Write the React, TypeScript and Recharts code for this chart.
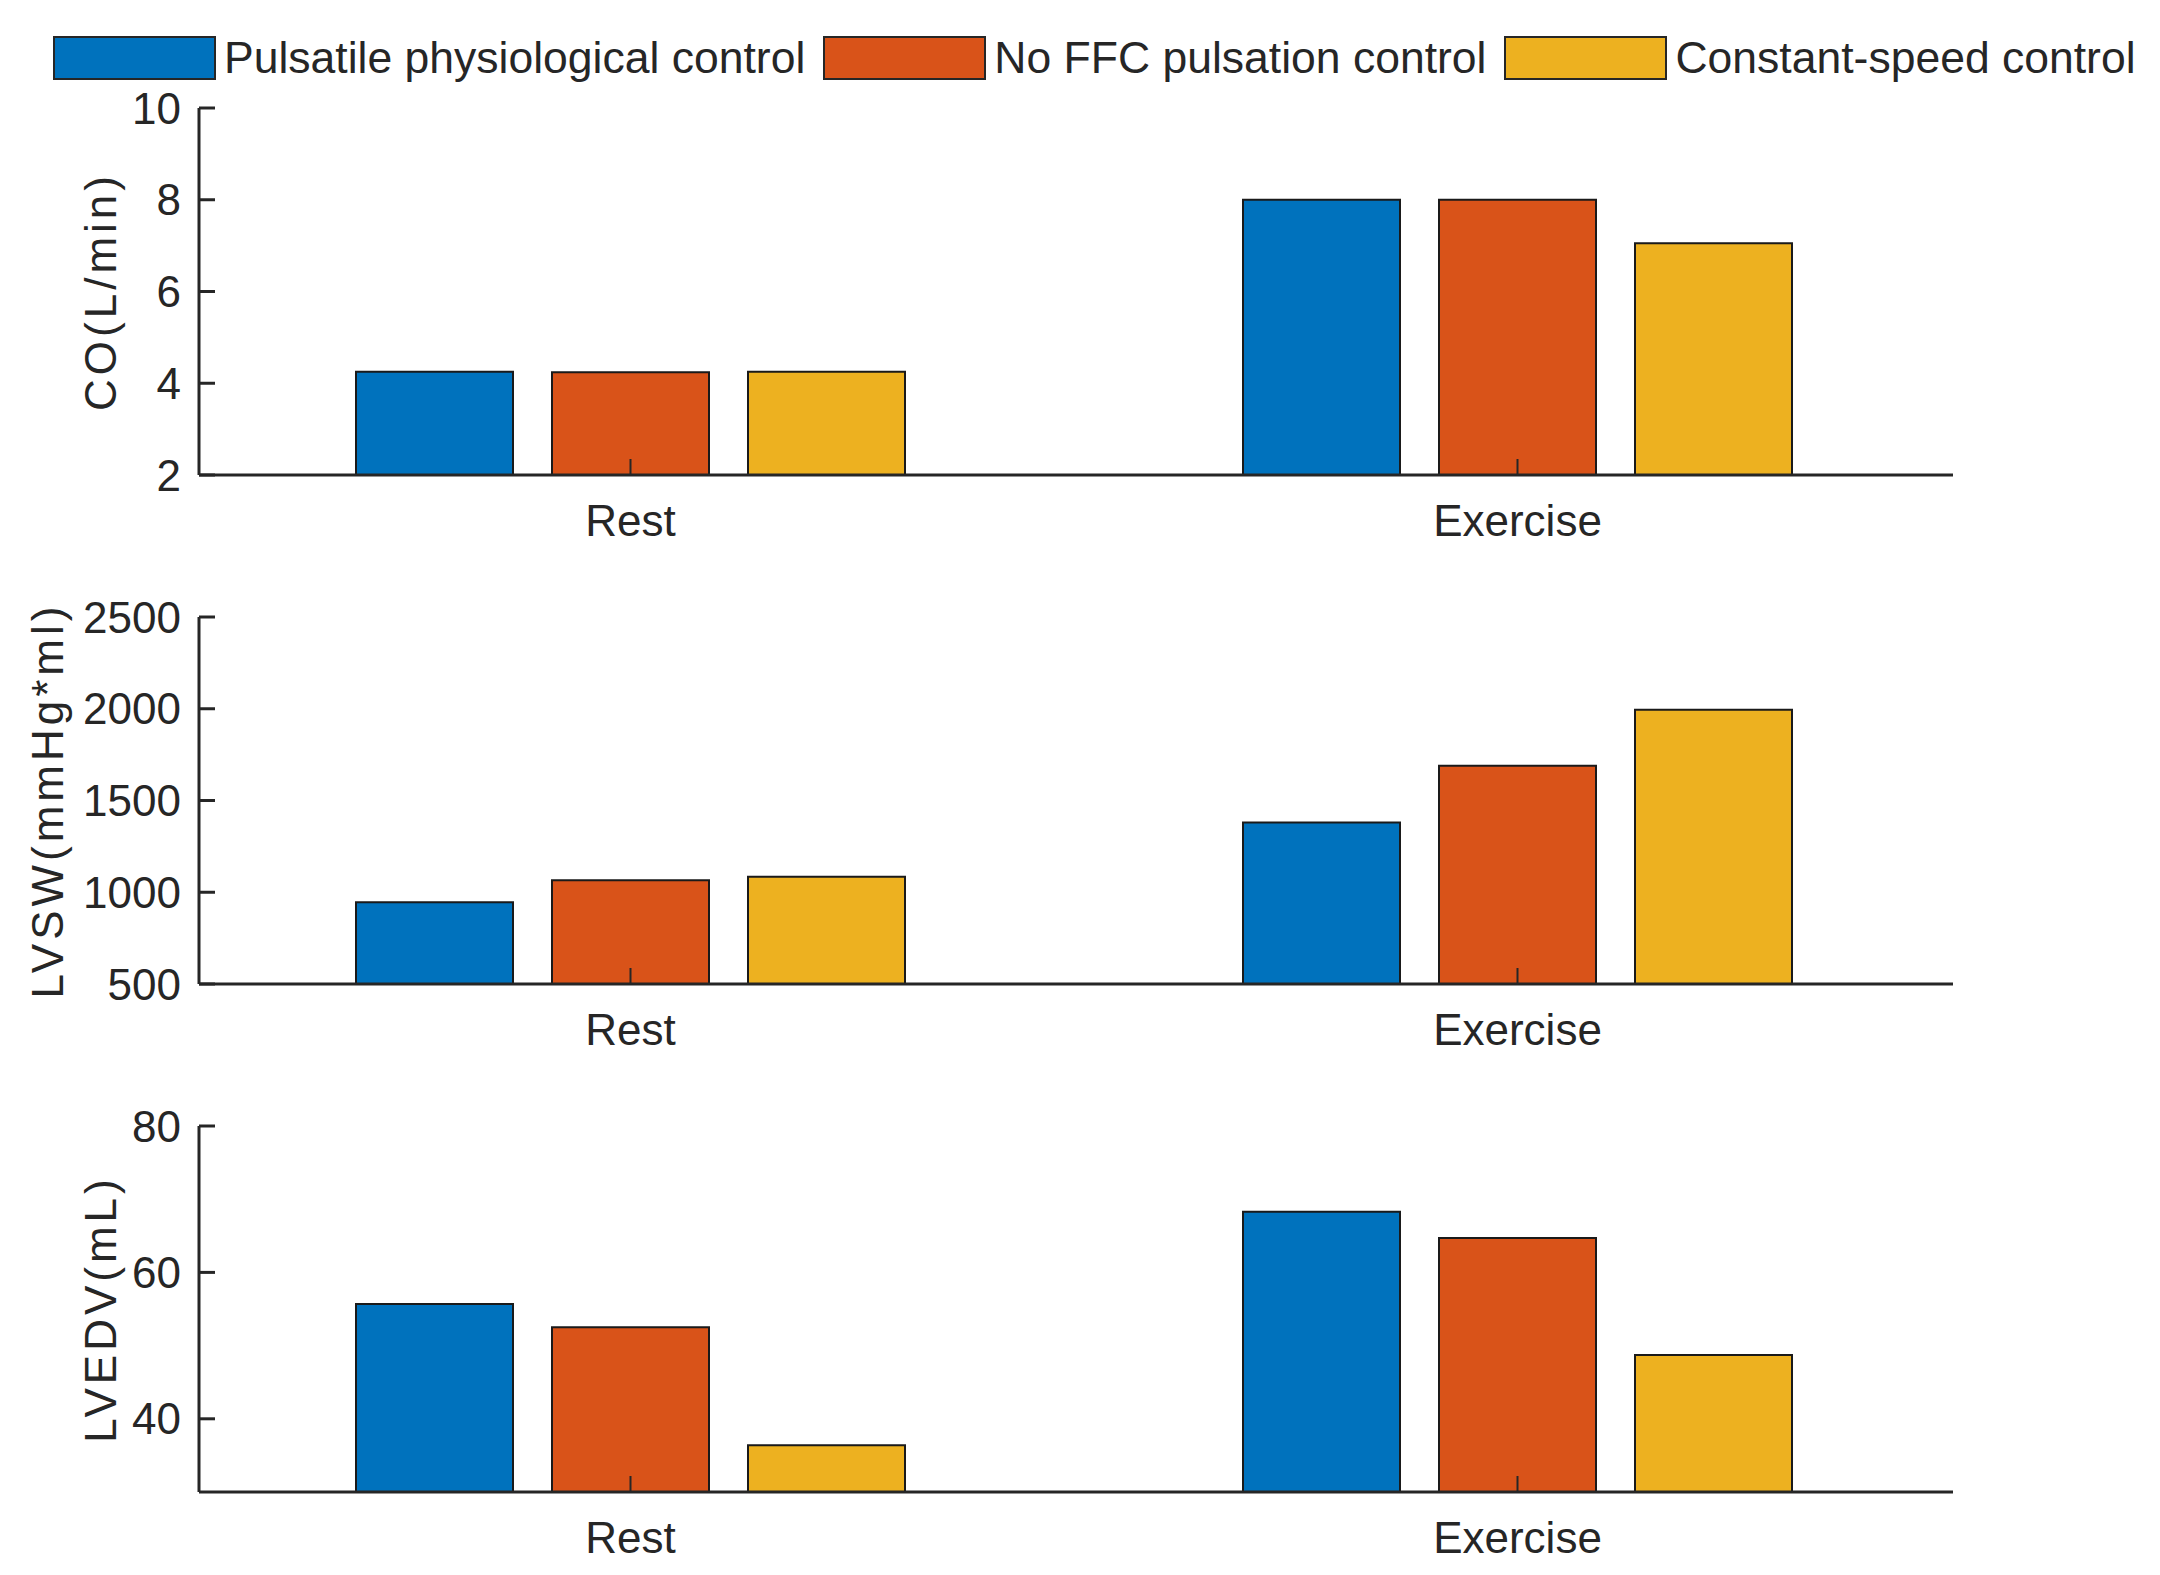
import React from 'react';
import { BarChart, Bar, XAxis, YAxis, Legend, Label } from 'recharts';

const categories = ['Rest', 'Exercise'];
const seriesNames = ['Pulsatile physiological control', 'No FFC pulsation control', 'Constant-speed control'];
const seriesColors = ['#0072BD', '#D95319', '#EDB120'];

const coPulsatile = [4.25, 8.0];
const coNoFfc = [4.24, 8.0];
const coConstant = [4.25, 7.05];
const coTicks = [2, 4, 6, 8, 10];

const lvswPulsatile = [945, 1380];
const lvswNoFfc = [1065, 1690];
const lvswConstant = [1085, 1995];
const lvswTicks = [500, 1000, 1500, 2000, 2500];

const lvedvPulsatile = [55.7, 68.3];
const lvedvNoFfc = [52.5, 64.7];
const lvedvConstant = [36.4, 48.7];
const lvedvTicks = [40, 60, 80];

const FONT = '"Liberation Sans", Arial, sans-serif';
const INK = '#262626';

function buildRows(a: number[], b: number[], c: number[]) {
  return categories.map((cat, i) => ({ cat, s0: a[i], s1: b[i], s2: c[i] }));
}

const renderLegend = () => (
  <div style={{ display: 'flex', alignItems: 'center', fontFamily: FONT, fontSize: 44.5, color: INK, lineHeight: 1, whiteSpace: 'nowrap' }}>
    {seriesNames.map((n, i) => (
      <div key={n} style={{ display: 'flex', alignItems: 'center', marginRight: i < 2 ? 18 : 0 }}>
        <div style={{ width: 163, height: 44, background: seriesColors[i], border: `2px solid ${INK}`, boxSizing: 'border-box' }} />
        <span style={{ marginLeft: 8 }}>{n}</span>
      </div>
    ))}
  </div>
);

type PanelProps = {
  divTop: number;
  padTop: number;
  plotHeight: number;
  rows: any[];
  domain: [number, number];
  ticks: number[];
  label: string;
  labelX: number;
  showLegend?: boolean;
};

function Panel({ divTop, padTop, plotHeight, rows, domain, ticks, label, labelX, showLegend }: PanelProps) {
  const xAxisH = 100;
  return (
    <div style={{ position: 'absolute', top: divTop, left: 0 }}>
      <BarChart
        width={2160}
        height={padTop + plotHeight + xAxisH}
        data={rows}
        margin={{ top: padTop, right: 207, bottom: 0, left: 99 }}
        barSize={157}
        barGap={39}
      >
        <XAxis
          dataKey="cat"
          height={xAxisH}
          padding={{ left: -12, right: -8 }}
          axisLine={{ stroke: INK, strokeWidth: 3 }}
          tickLine={{ stroke: INK, strokeWidth: 2 }}
          tickSize={-16}
          tickMargin={46}
          tick={{ fill: INK, fontSize: 44, fontFamily: FONT }}
          interval={0}
        />
        <YAxis
          width={100}
          domain={domain}
          ticks={ticks}
          allowDataOverflow
          axisLine={{ stroke: INK, strokeWidth: 3 }}
          tickLine={{ stroke: INK, strokeWidth: 3 }}
          tickSize={-16}
          tickMargin={34}
          tick={{ fill: INK, fontSize: 44, fontFamily: FONT }}
        >
          <Label
            content={(p: any) => {
              const vb = p.viewBox || {};
              const cy = (vb.y ?? 0) + (vb.height ?? 0) / 2;
              return (
                <text
                  x={labelX}
                  y={cy}
                  transform={`rotate(-90, ${labelX}, ${cy})`}
                  textAnchor="middle"
                  dominantBaseline="central"
                  fill={INK}
                  fontSize={44}
                  fontFamily={FONT}
                  letterSpacing={4}
                >
                  {label}
                </text>
              );
            }}
          />
        </YAxis>
        {showLegend && (
          <Legend
            verticalAlign="middle"
            align="center"
            content={renderLegend}
            wrapperStyle={{ position: 'absolute', top: 36, left: 53, width: 'auto', height: 'auto' }}
          />
        )}
        {['s0', 's1', 's2'].map((k, i) => (
          <Bar
            key={k}
            dataKey={k}
            name={seriesNames[i]}
            fill={seriesColors[i]}
            stroke="#1a1a1a"
            strokeWidth={2}
            isAnimationActive={false}
          />
        ))}
      </BarChart>
    </div>
  );
}

export default function App() {
  return (
    <div style={{ position: 'relative', width: 2160, height: 1575, background: '#fff' }}>
      <style>{'body{margin:0;background:#fff}'}</style>
      <Panel
        divTop={0}
        padTop={108}
        plotHeight={367}
        rows={buildRows(coPulsatile, coNoFfc, coConstant)}
        domain={[2, 10]}
        ticks={coTicks}
        label="CO(L/min)"
        labelX={100}
        showLegend
      />
      <Panel
        divTop={577}
        padTop={40}
        plotHeight={367}
        rows={buildRows(lvswPulsatile, lvswNoFfc, lvswConstant)}
        domain={[500, 2500]}
        ticks={lvswTicks}
        label="LVSW(mmHg*ml)"
        labelX={47}
      />
      <Panel
        divTop={1086}
        padTop={40}
        plotHeight={366}
        rows={buildRows(lvedvPulsatile, lvedvNoFfc, lvedvConstant)}
        domain={[30, 80]}
        ticks={lvedvTicks}
        label="LVEDV(mL)"
        labelX={100}
      />
    </div>
  );
}
